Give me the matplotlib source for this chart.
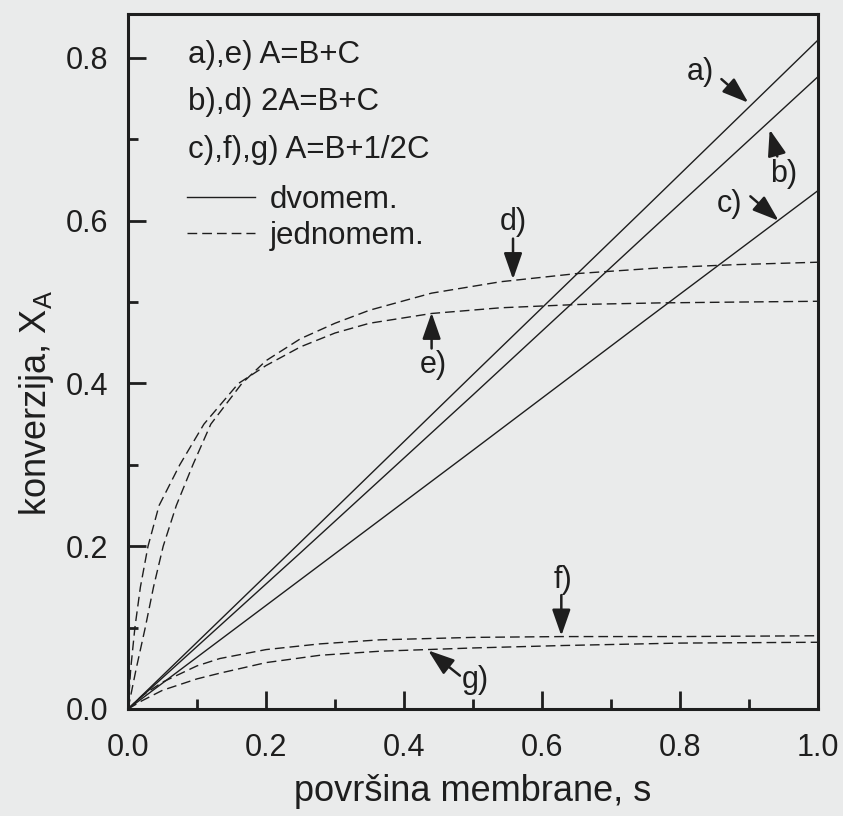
import matplotlib
matplotlib.use("Agg")
import matplotlib.pyplot as plt
from matplotlib.lines import Line2D
from matplotlib.ticker import MultipleLocator, FormatStrFormatter

plt.rcParams['font.family'] = ['Liberation Sans', 'DejaVu Sans']
plt.rcParams['mathtext.fontset'] = 'custom'
plt.rcParams['mathtext.rm'] = 'Liberation Sans'
plt.rcParams['mathtext.it'] = 'Liberation Sans'

# ---- data ----
s_solid = [0.0, 0.25, 0.5, 0.75, 1.0]
xa_a = [0.0, 0.205, 0.411, 0.616, 0.822]
xa_b = [0.0, 0.192, 0.386, 0.582, 0.777]
xa_c = [0.0, 0.159, 0.318, 0.478, 0.637]

s_d = [0.0, 0.012, 0.025, 0.037, 0.051, 0.07, 0.094, 0.12, 0.165, 0.2, 0.25, 0.3,
       0.35, 0.44, 0.54, 0.65, 0.77, 0.88, 1.0]
xa_d = [0.0, 0.05, 0.1, 0.15, 0.2, 0.25, 0.3, 0.35, 0.4, 0.428, 0.455, 0.474,
        0.49, 0.511, 0.525, 0.535, 0.542, 0.546, 0.549]
s_e = [0.0, 0.004, 0.01, 0.018, 0.029, 0.045, 0.075, 0.11, 0.16, 0.2, 0.25, 0.3,
       0.35, 0.44, 0.54, 0.65, 0.77, 0.88, 1.0]
xa_e = [0.0, 0.05, 0.1, 0.15, 0.2, 0.25, 0.3, 0.35, 0.4, 0.422, 0.445, 0.462,
        0.474, 0.486, 0.493, 0.497, 0.499, 0.5, 0.501]

s_fg = [0.0, 0.02, 0.05, 0.1, 0.133, 0.2, 0.278, 0.365, 0.5, 0.63, 0.8, 1.0]
xa_f = [0.0, 0.016, 0.033, 0.053, 0.062, 0.073, 0.080, 0.085, 0.088, 0.089, 0.089, 0.090]
xa_g = [0.0, 0.010, 0.023, 0.037, 0.044, 0.057, 0.066, 0.071, 0.075, 0.078, 0.081, 0.082]

legend_lines = ["a),e) A=B+C", "b),d) 2A=B+C", "c),f),g) A=B+1/2C"]
legend_kinds = ["dvomem.", "jednomem."]

# annotations: label, text position, arrow tail, arrow tip
notes = [
    ("a)", (0.829, 0.783), (0.860, 0.774), (0.899, 0.745)),
    ("b)", (0.950, 0.658), (0.941, 0.679), (0.930, 0.712)),
    ("c)", (0.872, 0.621), (0.902, 0.630), (0.943, 0.600)),
    ("d)", (0.558, 0.599), (0.558, 0.578), (0.558, 0.528)),
    ("e)", (0.442, 0.423), (0.440, 0.443), (0.440, 0.487)),
    ("f)", (0.630, 0.158), (0.628, 0.140), (0.628, 0.090)),
    ("g)", (0.503, 0.036), (0.481, 0.041), (0.435, 0.072)),
]

bg = '#eaebeb'
ink = '#1e1e1e'

fig = plt.figure(figsize=(8.43, 8.16), dpi=100, facecolor=bg)
ax = fig.add_axes([128/843, 1-709/816, 690/843, 695/816])
ax.set_facecolor(bg)

lw = 1.0
dash = (0, (7, 3.6))
for y in (xa_a, xa_b, xa_c):
    ax.plot(s_solid, y, color=ink, lw=lw)
ax.plot(s_d, xa_d, color=ink, lw=lw, linestyle=dash)
ax.plot(s_e, xa_e, color=ink, lw=lw, linestyle=dash)
ax.plot(s_fg, xa_f, color=ink, lw=lw, linestyle=dash)
ax.plot(s_fg, xa_g, color=ink, lw=lw, linestyle=dash)

ax.set_xlim(0, 1.0)
ax.set_ylim(0, 0.854)
ax.xaxis.set_major_locator(MultipleLocator(0.2))
ax.xaxis.set_minor_locator(MultipleLocator(0.1))
ax.yaxis.set_major_locator(MultipleLocator(0.2))
ax.yaxis.set_minor_locator(MultipleLocator(0.1))
ax.tick_params(which='both', direction='in', top=False, right=False, width=2.0,
               color=ink, labelsize=22, labelcolor=ink)
ax.tick_params(which='major', length=13)
ax.tick_params(which='minor', length=7)
ax.tick_params(axis='y', pad=14)
ax.tick_params(axis='x', pad=17)
ax.xaxis.set_major_formatter(FormatStrFormatter('%.1f'))
ax.yaxis.set_major_formatter(FormatStrFormatter('%.1f'))
for sp in ax.spines.values():
    sp.set_linewidth(2.2)
    sp.set_color(ink)

ax.set_xlabel('površina membrane, s', fontsize=26, color=ink)
ax.xaxis.set_label_coords(0.5, -0.094)
ax.set_ylabel(r'konverzija, X$_\mathregular{A}$', fontsize=26, color=ink)
ax.yaxis.set_label_coords(-0.105, 0.44)

# legend-like text
ys = [0.804, 0.746, 0.687]
for t, yy in zip(legend_lines, ys):
    ax.text(0.0874, yy, t, fontsize=22.5, color=ink, va='center', ha='left')

handles = [Line2D([], [], color=ink, lw=lw),
           Line2D([], [], color=ink, lw=lw, linestyle=dash)]
leg = ax.legend(handles, legend_kinds, loc='upper left',
                bbox_to_anchor=(0.085, 0.7537), frameon=False, fontsize=22.5,
                handlelength=2.2, handletextpad=0.46, labelspacing=0.2,
                borderpad=0, borderaxespad=0)
for t in leg.get_texts():
    t.set_color(ink)

for lab, tp, tail, tip in notes:
    ax.text(tp[0], tp[1], lab, fontsize=22, color=ink, ha='center', va='center')
    ax.annotate('', xy=tip, xytext=tail,
                arrowprops=dict(arrowstyle='-|>,head_length=0.8,head_width=0.28',
                                mutation_scale=20, color=ink, lw=1.8,
                                shrinkA=0, shrinkB=0))

fig.savefig('out.png', dpi=100, facecolor=bg)
